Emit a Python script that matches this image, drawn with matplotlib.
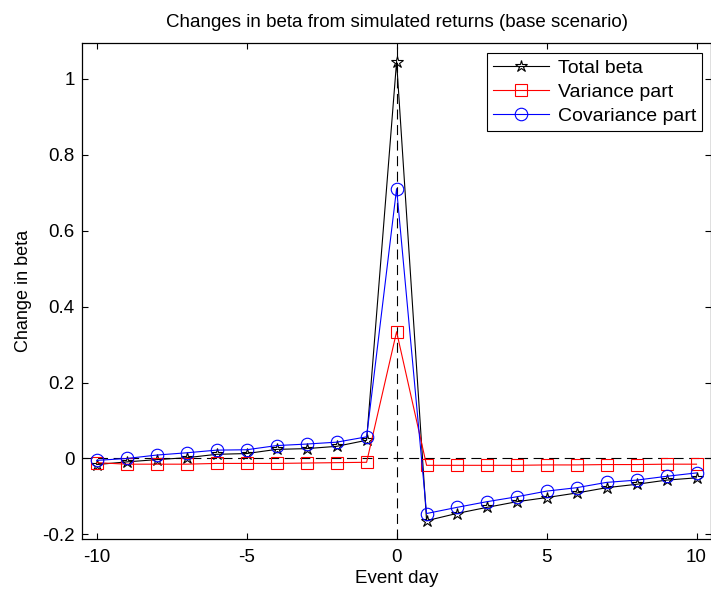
import numpy as np
import matplotlib.pyplot as plt

plt.rcParams['font.family'] = ['Liberation Sans', 'DejaVu Sans']

days = list(range(-10, 11))
total_beta = [-0.016, -0.009, -0.003, 0.002, 0.011, 0.013, 0.024, 0.026, 0.032, 0.048,
              1.046,
              -0.164, -0.145, -0.129, -0.114, -0.103, -0.091, -0.077, -0.068, -0.057, -0.051]
variance_part = [-0.011, -0.015, -0.015, -0.015, -0.013, -0.013, -0.013, -0.012, -0.011, -0.010,
                 0.334,
                 -0.018, -0.018, -0.018, -0.018, -0.017, -0.017, -0.016, -0.016, -0.015, -0.015]
covariance_part = [-0.005, 0.000, 0.009, 0.015, 0.022, 0.023, 0.034, 0.038, 0.043, 0.057,
                   0.711,
                   -0.145, -0.129, -0.114, -0.101, -0.086, -0.077, -0.063, -0.057, -0.047, -0.038]

fig = plt.figure(figsize=(7.11, 5.90), dpi=100)
ax = fig.add_axes([0.1149, 0.0859, 0.8858, 0.8407])

lw = 0.8
ax.plot(days, total_beta, color='k', lw=lw, marker='*', ms=9, mfc='none', mec='k',
        mew=0.8, label='Total beta')
ax.plot(days, variance_part, color='r', lw=lw, marker='s', ms=8, mfc='none', mec='r',
        mew=0.8, label='Variance part')
ax.plot(days, covariance_part, color='b', lw=lw, marker='o', ms=9, mfc='none', mec='b',
        mew=0.8, label='Covariance part')

h = ax.axhline(0, color='k', lw=lw, zorder=1)
h.set_dashes((9, 5))
v = ax.axvline(0, color='k', lw=lw, zorder=1)
v.set_dashes((9, 5))

ax.set_xlim(-10.5, 10.5)
ax.set_ylim(-0.213, 1.094)
ax.set_xticks([-10, -5, 0, 5, 10])
ax.set_xticklabels(['-10', '-5', '0', '5', '10'])
ax.set_yticks([-0.2, 0, 0.2, 0.4, 0.6, 0.8, 1])
ax.set_yticklabels(['-0.2', '0', '0.2', '0.4', '0.6', '0.8', '1'])
ax.tick_params(direction='in', top=True, right=True, length=4.3, width=0.8,
               labelsize=13.5)
ax.tick_params(axis='x', pad=7)
ax.tick_params(axis='y', pad=5)
for s in ax.spines.values():
    s.set_linewidth(0.9)

ax.set_title('Changes in beta from simulated returns (base scenario)', fontsize=13.5, pad=12)
ax.set_xlabel('Event day', fontsize=13.5, labelpad=3)
ax.set_ylabel('Change in beta', fontsize=13, labelpad=7)

leg = ax.legend(loc='upper right', bbox_to_anchor=(0.985, 0.980), borderaxespad=0,
                fontsize=14, fancybox=False, edgecolor='k', framealpha=1,
                handlelength=2.9, handletextpad=0.46, labelspacing=0.33, borderpad=0.3)
leg.get_frame().set_linewidth(0.8)

fig.savefig('out.png', dpi=100)
